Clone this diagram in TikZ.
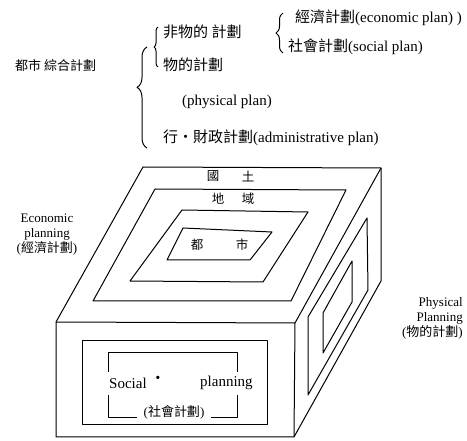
\documentclass[tikz,border=0pt]{standalone}
\usepackage{fontspec}
\setmainfont{Liberation Serif}
\newfontfamily\cjk{Noto Sans CJK TC}
\usetikzlibrary{positioning,calc,decorations.pathreplacing}
\tikzset{
  ln/.style={line width=1pt,line join=round},
  zh/.style={font=\cjk\fontsize{12.5}{14}\selectfont,inner sep=0pt},
  en/.style={font=\fontsize{13}{15}\selectfont,inner sep=0pt},
  lft/.style={en,anchor=west},
  top/.style={inner sep=0pt,anchor=west,font=\fontsize{15}{16}\selectfont},
  face/.style={inner sep=0pt,font=\fontsize{15}{16}\selectfont},
  brc/.style args={#1,#2}{ln,decorate,decoration={brace,amplitude=#1,aspect=#2}},
}

\begin{document}
\begin{tikzpicture}[x=1pt,y=-1pt]
  \useasboundingbox (0,0) rectangle (467,441);

  % plan tree
  \node [zh,anchor=west,font=\cjk\fontsize{13}{15}\selectfont] (city) at (15,66) {都市\ 綜合計劃};
  \coordinate (b0b) at (147,148);
  \coordinate (b0t) at (147,47);
  \draw [brc={10pt,0.6}] (b0b) -- (b0t);
  \node [top] (nonphy) at (163,32) {{\cjk 非物的\ 計劃}};
  \node [top,below=33pt of nonphy.west,anchor=west] (phy) {{\cjk 物的計劃}};
  \node [top,below=37pt of phy.west,anchor=west,xshift=19pt] (phyplan) {(physical plan)};
  \node [top,below=73pt of phy.west,anchor=west] (admin) {{\cjk 行・財政計劃}(administrative plan)};
  \coordinate (b1b) at (158,67);
  \coordinate (b1t) at (158,27);
  \draw [brc={4pt,0.5}] (b1b) -- (b1t);
  \coordinate (b2b) at (283,53);
  \coordinate (b2t) at (283,13);
  \draw [brc={7pt,0.5}] (b2b) -- (b2t);
  \node [top] (econ) at (295,18) {{\cjk 經濟計劃}(economic plan) )};
  \node [top] (soc) at (288,47) {{\cjk 社會計劃}(social plan)};

  % block
  \coordinate (fl) at (56,322);
  \coordinate (fr) at (295,323);
  \coordinate (br) at (294,437);
  \coordinate (bl) at (56,437);
  \coordinate (tl) at (143,167);
  \coordinate (tr) at (381,168);
  \coordinate (rb) at (381,281);
  \draw [ln] (fl) -- (tl) -- (tr) -- (rb) -- (br) -- (bl) -- cycle;
  \draw [ln] (fl) -- (fr) -- (br);
  \draw [ln] (fr) -- (tr);

  % top face
  \draw [ln] (155,189) -- (346,190) -- (291,301) -- (93,301) -- cycle;
  \draw [ln] (182,210) -- (308,212) -- (263,282) -- (130,281) -- cycle;
  \draw [ln] (183,228) -- (272,232) -- (250,260) -- (167,260) -- cycle;
  \node [zh] (kok) at (213,176) {國};
  \node [zh] (do) at (248,176) {土};
  \node [zh] (chi) at (218,199) {地};
  \node [zh] (yeok) at (248,199) {域};
  \node [zh] (to) at (197,245) {都};
  \node [zh] (si) at (242,245) {市};

  % side faces
  \draw [ln] (308,317) -- (367,218) -- (368,290) -- (308,395) -- cycle;
  \draw [ln] (323,313) -- (352,261) -- (352,302) -- (323,353) -- cycle;
  \draw [ln] (82,341) rectangle (267,425);
  \draw [ln] (108,372) -- (108,353) -- (237,353) -- (237,372);
  \draw [ln] (108,395) -- (108,418) -- (137,418);
  \draw [ln] (211,418) -- (237,418) -- (237,395);
  \node [face,anchor=west] (social) at (109,383) {Social};
  \node [en,font=\bfseries\fontsize{20}{20}\selectfont] (mid) at (158,380) {·};
  \node [face,anchor=west] (sp) at (200,383) {planning};
  \node [en] (socz) at (174,412) {({\cjk 社會計劃})};

  % labels
  \node [en,align=center] (ecplan) at (47,235) {Economic\\planning\\({\cjk 經濟計劃})};
  \node [en,align=right,anchor=east] (phplan) at (463,318) {Physical\\Planning\\({\cjk 物的計劃})};
\end{tikzpicture}
\end{document}
